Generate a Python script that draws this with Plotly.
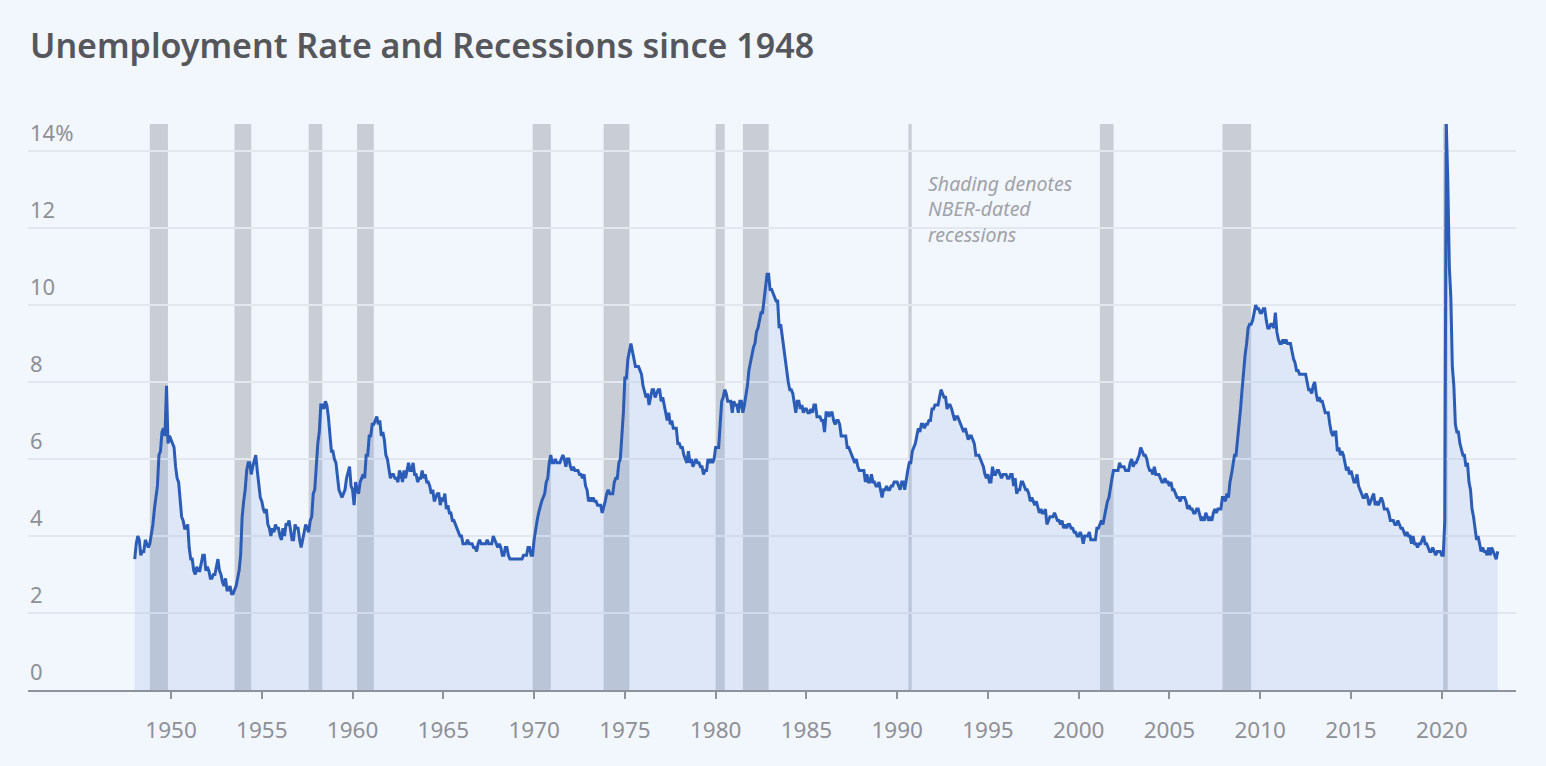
import plotly.graph_objects as go

# Monthly U.S. unemployment rate (%), Jan 1948 onward
rate_1948_1959 = [
    3.4, 3.8, 4.0, 3.9, 3.5, 3.6, 3.6, 3.9, 3.8, 3.7, 3.8, 4.0,
    4.3, 4.7, 5.0, 5.3, 6.1, 6.2, 6.7, 6.8, 6.6, 7.9, 6.4, 6.6,
    6.5, 6.4, 6.3, 5.8, 5.5, 5.4, 5.0, 4.5, 4.4, 4.2, 4.2, 4.3,
    3.7, 3.4, 3.4, 3.1, 3.0, 3.2, 3.1, 3.1, 3.3, 3.5, 3.5, 3.1,
    3.2, 3.1, 2.9, 2.9, 3.0, 3.0, 3.2, 3.4, 3.1, 3.0, 2.8, 2.7,
    2.9, 2.6, 2.6, 2.7, 2.5, 2.5, 2.6, 2.7, 2.9, 3.1, 3.5, 4.5,
    4.9, 5.2, 5.7, 5.9, 5.9, 5.6, 5.8, 6.0, 6.1, 5.7, 5.3, 5.0,
    4.9, 4.7, 4.6, 4.7, 4.3, 4.2, 4.0, 4.2, 4.1, 4.3, 4.2, 4.2,
    4.0, 3.9, 4.2, 4.0, 4.3, 4.3, 4.4, 4.1, 3.9, 3.9, 4.3, 4.2,
    4.2, 3.9, 3.7, 3.9, 4.1, 4.3, 4.2, 4.1, 4.4, 4.5, 5.1, 5.2,
    5.8, 6.4, 6.7, 7.4, 7.4, 7.3, 7.5, 7.4, 7.1, 6.7, 6.2, 6.2,
    6.0, 5.9, 5.6, 5.2, 5.1, 5.0, 5.1, 5.2, 5.5, 5.7, 5.8, 5.3,
]
rate_1960_1969 = [
    5.2, 4.8, 5.4, 5.2, 5.1, 5.4, 5.5, 5.6, 5.5, 6.1, 6.1, 6.6,
    6.6, 6.9, 6.9, 7.0, 7.1, 6.9, 7.0, 6.6, 6.7, 6.5, 6.1, 6.0,
    5.8, 5.5, 5.6, 5.6, 5.5, 5.5, 5.4, 5.7, 5.6, 5.4, 5.7, 5.5,
    5.7, 5.9, 5.7, 5.7, 5.9, 5.6, 5.6, 5.4, 5.5, 5.5, 5.7, 5.5,
    5.6, 5.4, 5.4, 5.3, 5.1, 5.2, 4.9, 5.0, 5.1, 5.1, 4.8, 5.0,
    4.9, 5.1, 4.7, 4.8, 4.6, 4.6, 4.4, 4.4, 4.3, 4.2, 4.1, 4.0,
    4.0, 3.8, 3.8, 3.8, 3.9, 3.8, 3.8, 3.8, 3.7, 3.7, 3.6, 3.8,
    3.9, 3.8, 3.8, 3.8, 3.8, 3.9, 3.8, 3.8, 3.8, 4.0, 3.9, 3.8,
    3.7, 3.8, 3.7, 3.5, 3.5, 3.7, 3.7, 3.5, 3.4, 3.4, 3.4, 3.4,
    3.4, 3.4, 3.4, 3.4, 3.4, 3.5, 3.5, 3.5, 3.7, 3.7, 3.5, 3.5,
]
rate_1970_1979 = [
    3.9, 4.2, 4.4, 4.6, 4.8, 4.9, 5.0, 5.1, 5.4, 5.5, 5.9, 6.1,
    5.9, 5.9, 6.0, 5.9, 5.9, 5.9, 6.0, 6.1, 6.0, 5.8, 6.0, 6.0,
    5.8, 5.7, 5.8, 5.7, 5.7, 5.7, 5.6, 5.6, 5.5, 5.6, 5.3, 5.2,
    4.9, 5.0, 4.9, 5.0, 4.9, 4.9, 4.8, 4.8, 4.8, 4.6, 4.8, 4.9,
    5.1, 5.2, 5.1, 5.1, 5.1, 5.4, 5.5, 5.5, 5.9, 6.0, 6.6, 7.2,
    8.1, 8.1, 8.6, 8.8, 9.0, 8.8, 8.6, 8.4, 8.4, 8.4, 8.3, 8.2,
    7.9, 7.7, 7.6, 7.7, 7.4, 7.6, 7.8, 7.8, 7.6, 7.7, 7.8, 7.8,
    7.5, 7.6, 7.4, 7.2, 7.0, 7.2, 6.9, 7.0, 6.8, 6.8, 6.8, 6.4,
    6.4, 6.3, 6.3, 6.1, 6.0, 5.9, 6.2, 5.9, 6.0, 5.8, 5.9, 6.0,
    5.9, 5.9, 5.8, 5.8, 5.6, 5.7, 5.7, 6.0, 5.9, 6.0, 5.9, 6.0,
]
rate_1980_1989 = [
    6.3, 6.3, 6.3, 6.9, 7.5, 7.6, 7.8, 7.7, 7.5, 7.5, 7.5, 7.2,
    7.5, 7.4, 7.4, 7.2, 7.5, 7.5, 7.2, 7.4, 7.6, 7.9, 8.3, 8.5,
    8.6, 8.9, 9.0, 9.3, 9.4, 9.6, 9.8, 9.8, 10.1, 10.4, 10.8, 10.8,
    10.4, 10.4, 10.3, 10.2, 10.1, 10.1, 9.4, 9.5, 9.2, 8.8, 8.5, 8.3,
    8.0, 7.8, 7.8, 7.7, 7.4, 7.2, 7.5, 7.5, 7.3, 7.4, 7.2, 7.3,
    7.3, 7.2, 7.2, 7.3, 7.2, 7.4, 7.4, 7.1, 7.1, 7.1, 7.0, 7.0,
    6.7, 7.2, 7.2, 7.1, 7.2, 7.2, 7.0, 6.9, 7.0, 7.0, 6.9, 6.6,
    6.6, 6.6, 6.6, 6.3, 6.3, 6.2, 6.1, 6.0, 5.9, 6.0, 5.8, 5.7,
    5.7, 5.7, 5.7, 5.4, 5.6, 5.4, 5.4, 5.6, 5.4, 5.4, 5.3, 5.3,
    5.4, 5.2, 5.0, 5.2, 5.2, 5.3, 5.2, 5.2, 5.3, 5.3, 5.4, 5.4,
]
rate_1990_1999 = [
    5.4, 5.3, 5.2, 5.4, 5.4, 5.2, 5.5, 5.7, 5.9, 5.9, 6.2, 6.3,
    6.4, 6.6, 6.8, 6.7, 6.9, 6.9, 6.8, 6.9, 6.9, 7.0, 7.0, 7.3,
    7.3, 7.4, 7.4, 7.4, 7.6, 7.8, 7.7, 7.6, 7.6, 7.3, 7.4, 7.4,
    7.3, 7.1, 7.0, 7.1, 7.1, 7.0, 6.9, 6.8, 6.7, 6.8, 6.6, 6.5,
    6.6, 6.6, 6.5, 6.4, 6.1, 6.1, 6.1, 6.0, 5.9, 5.8, 5.6, 5.5,
    5.6, 5.4, 5.4, 5.8, 5.6, 5.6, 5.7, 5.7, 5.6, 5.5, 5.6, 5.6,
    5.6, 5.5, 5.5, 5.6, 5.6, 5.3, 5.5, 5.1, 5.2, 5.2, 5.4, 5.4,
    5.3, 5.2, 5.2, 5.1, 4.9, 5.0, 4.9, 4.8, 4.9, 4.7, 4.6, 4.7,
    4.6, 4.6, 4.7, 4.3, 4.4, 4.5, 4.5, 4.5, 4.6, 4.5, 4.4, 4.4,
    4.3, 4.4, 4.2, 4.3, 4.2, 4.3, 4.3, 4.2, 4.2, 4.1, 4.1, 4.0,
]
rate_2000_2009 = [
    4.0, 4.1, 4.0, 3.8, 4.0, 4.0, 4.0, 4.1, 3.9, 3.9, 3.9, 3.9,
    4.2, 4.2, 4.3, 4.4, 4.3, 4.5, 4.6, 4.9, 5.0, 5.3, 5.5, 5.7,
    5.7, 5.7, 5.7, 5.9, 5.8, 5.8, 5.8, 5.7, 5.7, 5.7, 5.9, 6.0,
    5.8, 5.9, 5.9, 6.0, 6.1, 6.3, 6.2, 6.1, 6.1, 6.0, 5.8, 5.7,
    5.7, 5.6, 5.8, 5.6, 5.6, 5.6, 5.5, 5.4, 5.4, 5.5, 5.4, 5.4,
    5.3, 5.4, 5.2, 5.2, 5.1, 5.0, 5.0, 4.9, 5.0, 5.0, 5.0, 4.9,
    4.7, 4.8, 4.7, 4.7, 4.6, 4.6, 4.7, 4.7, 4.5, 4.4, 4.5, 4.4,
    4.6, 4.5, 4.4, 4.5, 4.4, 4.6, 4.7, 4.6, 4.7, 4.7, 4.7, 5.0,
    5.0, 4.9, 5.1, 5.0, 5.4, 5.6, 5.8, 6.1, 6.1, 6.5, 6.8, 7.3,
    7.8, 8.3, 8.7, 9.0, 9.4, 9.5, 9.5, 9.6, 9.8, 10.0, 9.9, 9.9,
]
rate_2010_2023 = [
    9.8, 9.8, 9.9, 9.9, 9.6, 9.4, 9.4, 9.5, 9.5, 9.4, 9.8, 9.3,
    9.1, 9.0, 9.0, 9.1, 9.0, 9.1, 9.0, 9.0, 9.0, 8.8, 8.6, 8.5,
    8.3, 8.3, 8.2, 8.2, 8.2, 8.2, 8.2, 8.0, 7.8, 7.8, 7.7, 7.9,
    8.0, 7.7, 7.5, 7.6, 7.5, 7.5, 7.3, 7.2, 7.2, 7.2, 6.9, 6.7,
    6.6, 6.7, 6.7, 6.2, 6.3, 6.1, 6.2, 6.1, 5.9, 5.7, 5.8, 5.6,
    5.7, 5.5, 5.4, 5.4, 5.6, 5.3, 5.2, 5.1, 5.0, 5.0, 5.1, 5.0,
    4.8, 4.9, 5.0, 5.1, 4.8, 4.9, 4.8, 4.9, 5.0, 4.9, 4.7, 4.7,
    4.7, 4.6, 4.4, 4.4, 4.4, 4.3, 4.3, 4.4, 4.3, 4.2, 4.2, 4.1,
    4.0, 4.1, 4.0, 4.0, 3.8, 4.0, 3.8, 3.8, 3.7, 3.8, 3.8, 3.9,
    4.0, 3.8, 3.8, 3.7, 3.6, 3.6, 3.7, 3.6, 3.5, 3.6, 3.6, 3.6,
    3.5, 3.5, 4.4, 14.7, 13.2, 11.0, 10.2, 8.4, 7.9, 6.9, 6.7, 6.7,
    6.4, 6.2, 6.1, 6.1, 5.8, 5.9, 5.4, 5.2, 4.7, 4.5, 4.2, 3.9,
    4.0, 3.8, 3.6, 3.7, 3.6, 3.6, 3.5, 3.7, 3.5, 3.7, 3.6, 3.5,
    3.4, 3.6,
]
start_year = 1948

# NBER recession periods (decimal years)
recession_start = [1948.83, 1953.50, 1957.58, 1960.25, 1969.92, 1973.83,
                   1980.00, 1981.50, 1990.62, 2001.17, 2007.92, 2020.08]
recession_end = [1949.83, 1954.42, 1958.33, 1961.17, 1970.92, 1975.25,
                 1980.50, 1982.92, 1990.80, 2001.92, 2009.50, 2020.33]

x_tick_years = list(range(1950, 2021, 5))
y_tick_vals = [0, 2, 4, 6, 8, 10, 12, 14]
y_tick_text = ["0", "2", "4", "6", "8", "10", "12", "14%"]

rates = (rate_1948_1959 + rate_1960_1969 + rate_1970_1979 + rate_1980_1989
         + rate_1990_1999 + rate_2000_2009 + rate_2010_2023)
dates = [start_year + i / 12 for i in range(len(rates))]

BG = "#f2f6fd"
FONT = "Noto Sans"
TICK_COLOR = "#8e9096"

fig = go.Figure()
fig.add_trace(go.Scatter(
    x=dates, y=rates, mode="lines",
    line=dict(color="#2b5cb6", width=3),
    fill="tozeroy", fillcolor="rgba(120,160,225,0.17)",
    hoverinfo="x+y", showlegend=False,
))

for s, e in zip(recession_start, recession_end):
    fig.add_shape(type="rect", xref="x", yref="paper", x0=s, x1=e, y0=0, y1=1,
                  fillcolor="#c9cdd6", line=dict(width=0), layer="below")

# y-axis labels sit above their gridlines at the left edge of the plot
for v, t in zip(y_tick_vals, y_tick_text):
    fig.add_annotation(
        x=0, xref="paper", y=v, yref="y", xanchor="left", yanchor="bottom",
        text=t, showarrow=False, yshift=2,
        font=dict(family=FONT, size=22, color=TICK_COLOR),
    )

fig.add_annotation(
    x=1991.6, y=13.55, xref="x", yref="y", xanchor="left", yanchor="top",
    text="Shading denotes<br>NBER-dated<br>recessions", showarrow=False, align="left",
    font=dict(family=FONT, size=19.5, color="#9fa2a8", style="italic"),
)

fig.update_layout(
    width=1546, height=766,
    paper_bgcolor=BG, plot_bgcolor=BG,
    margin=dict(l=28, r=30, t=124, b=76),
    title=dict(text="Unemployment Rate and Recessions since 1948",
               x=30 / 1546, xref="container", xanchor="left",
               y=1 - 46 / 766, yref="container", yanchor="middle",
               font=dict(family=FONT, size=34, color="#55575c", weight=600)),
    xaxis=dict(range=[1942.12, 2024.09], tickvals=x_tick_years,
               ticktext=[str(y) for y in x_tick_years],
               showgrid=False, zeroline=False,
               showline=True, linecolor="#8d929b", linewidth=2,
               ticks="outside", ticklen=7, tickcolor="#8d929b", tickwidth=1.5,
               ticklabelstandoff=12,
               tickfont=dict(family=FONT, size=22.5, color=TICK_COLOR)),
    yaxis=dict(range=[0, 14.7], tickvals=y_tick_vals,
               showticklabels=False,
               showgrid=True, gridcolor="#e3e7ef", gridwidth=1.5,
               zeroline=False, showline=False, ticks=""),
)

fig.write_html(
    "out.html",
    config={"displayModeBar": False},
    post_script="document.body.style.margin='0';document.body.style.background='%s';" % BG,
)
